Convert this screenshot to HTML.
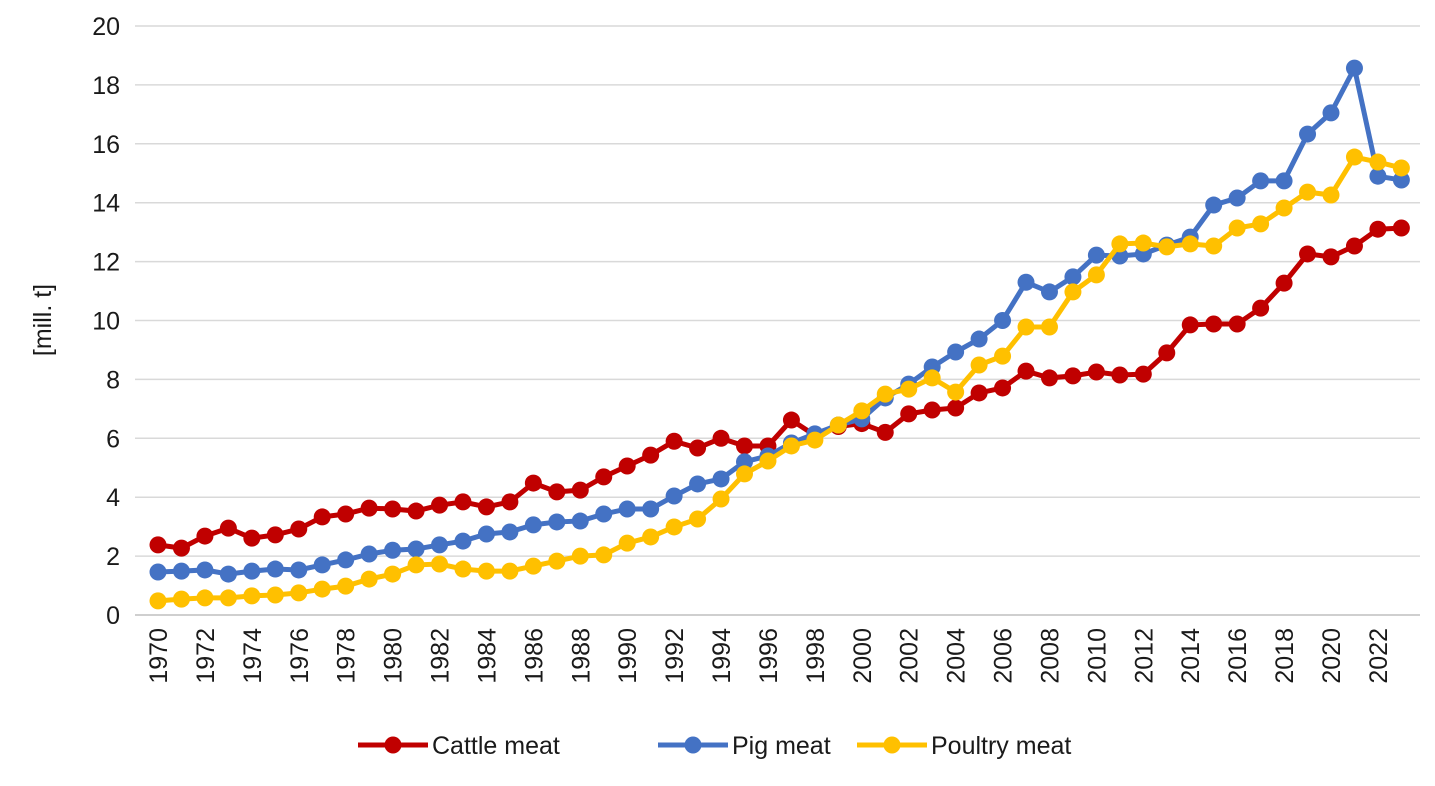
<!DOCTYPE html>
<html><head><meta charset="utf-8"><style>
body{margin:0;background:#fff;font-family:"Liberation Sans",sans-serif}
</style></head><body>
<svg id="c" width="1435" height="781"></svg>
<script>
const years=[];for(let y=1970;y<=2023;y++)years.push(y);
const cattle=[2.38,2.27,2.68,2.95,2.61,2.72,2.92,3.33,3.43,3.63,3.6,3.53,3.73,3.84,3.67,3.84,4.48,4.18,4.24,4.69,5.06,5.43,5.9,5.67,6.0,5.74,5.74,6.62,6.1,6.4,6.5,6.2,6.83,6.96,7.03,7.54,7.71,8.28,8.05,8.12,8.25,8.15,8.18,8.9,9.85,9.88,9.88,10.42,11.27,12.26,12.16,12.53,13.1,13.14];
const pig=[1.46,1.49,1.53,1.39,1.49,1.56,1.53,1.7,1.87,2.07,2.2,2.24,2.38,2.51,2.75,2.82,3.06,3.16,3.19,3.43,3.6,3.6,4.04,4.45,4.62,5.2,5.4,5.84,6.15,6.45,6.66,7.37,7.84,8.42,8.93,9.37,10.0,11.3,10.97,11.48,12.22,12.19,12.26,12.56,12.83,13.92,14.16,14.74,14.74,16.33,17.05,18.57,14.9,14.77];
const poultry=[0.48,0.54,0.58,0.58,0.65,0.68,0.75,0.88,0.98,1.22,1.39,1.7,1.73,1.56,1.49,1.49,1.66,1.83,2.0,2.04,2.44,2.65,2.99,3.26,3.94,4.79,5.23,5.74,5.94,6.45,6.93,7.5,7.67,8.05,7.57,8.49,8.79,9.78,9.78,10.97,11.55,12.6,12.63,12.5,12.6,12.53,13.14,13.28,13.82,14.36,14.26,15.55,15.38,15.18];
const yTicks=[0,2,4,6,8,10,12,14,16,18,20];
const svg=document.getElementById('c');const NS='http://www.w3.org/2000/svg';
function el(t,a,p){const e=document.createElementNS(NS,t);for(const k in a)e.setAttribute(k,a[k]);(p||svg).appendChild(e);return e;}
const X=y=>158+(y-1970)*23.46;
const Y=v=>615-v*29.45;
yTicks.forEach(t=>{
 const l=el('line',{x1:135,x2:1420,y1:Y(t),y2:Y(t),stroke:t==0?'#bfbfbf':'#d9d9d9','stroke-width':1.5});
 
 const tx=el('text',{x:120,y:Y(t)+9,'text-anchor':'end','font-size':25,fill:'#1a1a1a'});tx.textContent=t;
 
});
years.forEach(y=>{if(y%2)return;
 const tx=el('text',{transform:`translate(${X(y)+9},${628}) rotate(-90)`,'text-anchor':'end','font-size':25,fill:'#1a1a1a'});tx.textContent=y;
 
});
const yt=el('text',{transform:'translate(51,320) rotate(-90)','text-anchor':'middle','font-size':25,fill:'#1a1a1a'});yt.textContent='[mill. t]';

function series(vals,col,name){
 const g=el('g',{});
 el('polyline',{points:vals.map((v,i)=>X(years[i])+','+Y(v)).join(' '),fill:'none',stroke:col,'stroke-width':5},g);
 vals.forEach((v,i)=>{const c=el('circle',{cx:X(years[i]),cy:Y(v),r:8.5,fill:col},g);
  });
}
series(cattle,'#c00000','cattle');
series(pig,'#4472c4','pig');
series(poultry,'#ffc000','poultry');
const leg=[['Cattle meat','#c00000',358],['Pig meat','#4472c4',658],['Poultry meat','#ffc000',857]];
leg.forEach(([n,c,x])=>{const g=el('g',{});
 el('line',{x1:x,x2:x+70,y1:745,y2:745,stroke:c,'stroke-width':5},g);
 el('circle',{cx:x+35,cy:745,r:8.5,fill:c},g);
 const t=el('text',{x:x+74,y:754,'font-size':25,fill:'#1a1a1a'},g);t.textContent=n;});
</script>
</body></html>
